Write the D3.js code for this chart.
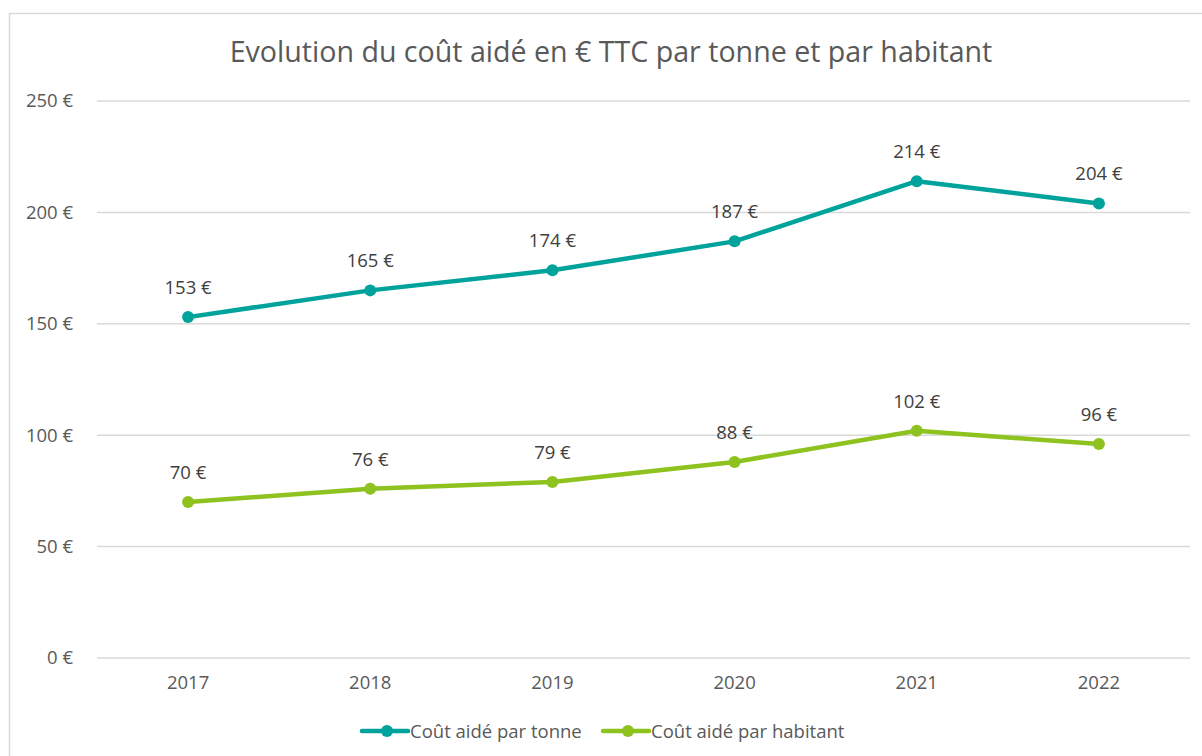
<!DOCTYPE html>
<html>
<head>
<meta charset="utf-8">
<script src="https://cdn.jsdelivr.net/npm/d3@7.9.0/dist/d3.min.js"></script>
<style>
  body { margin: 0; background: #fff; }
  svg { font-family: "Open Sans", "Liberation Sans", sans-serif; }
</style>
</head>
<body>
<div id="chart"></div>
<script>
const years = ["2017", "2018", "2019", "2020", "2021", "2022"];
const parTonne = [153, 165, 174, 187, 214, 204];
const parHabitant = [70, 76, 79, 88, 102, 96];
const yTicks = [0, 50, 100, 150, 200, 250];
const seriesNames = ["Coût aidé par tonne", "Coût aidé par habitant"];
const seriesColors = ["#00A39C", "#8DC21F"];

const width = 1202, height = 756;
const margin = { top: 101, right: 12, bottom: 98, left: 97 };
const fs = "18.5px";

const svg = d3.select("#chart").append("svg")
  .attr("width", width)
  .attr("height", height);

// chart frame
svg.append("rect")
  .attr("x", 9.5).attr("y", 13.5)
  .attr("width", 1210).attr("height", 760)
  .attr("fill", "none").attr("stroke", "#d9d9d9").attr("stroke-width", 1.5);

const x = d3.scaleBand().domain(years).range([margin.left, width - margin.right]);
const y = d3.scaleLinear().domain([0, 250]).range([height - margin.bottom, margin.top]);

// title
const title = svg.append("text")
  .attr("x", 611).attr("y", 62)
  .attr("text-anchor", "middle")
  .attr("fill", "#595959")
  .style("font-size", "28px")
  .text("Evolution du coût aidé en € TTC par tonne et par habitant");
const tw = title.node().getComputedTextLength();
title.style("font-size", (28 * 763 / tw) + "px");

// gridlines
svg.append("g").selectAll("line")
  .data(yTicks)
  .join("line")
  .attr("x1", margin.left).attr("x2", width - margin.right)
  .attr("y1", d => y(d)).attr("y2", d => y(d))
  .attr("stroke", "#d9d9d9").attr("stroke-width", 1.5);

// y axis labels
const yAxis = svg.append("g")
  .attr("transform", `translate(${margin.left - 21},0)`)
  .call(d3.axisLeft(y).tickValues(yTicks).tickSize(0).tickFormat(d => d + " €"));
yAxis.select(".domain").remove();
yAxis.selectAll("text")
  .attr("fill", "#595959")
  .style("font-size", fs)
  .style("font-family", "'Open Sans', sans-serif");

// x axis labels
const xAxis = svg.append("g")
  .attr("transform", `translate(0,${height - margin.bottom + 15})`)
  .call(d3.axisBottom(x).tickSize(0));
xAxis.select(".domain").remove();
xAxis.selectAll("text")
  .attr("fill", "#595959")
  .style("font-size", fs)
  .style("font-family", "'Open Sans', sans-serif");

const allSeries = [parTonne, parHabitant];
const line = d3.line()
  .x((d, i) => x(years[i]) + x.bandwidth() / 2)
  .y(d => y(d));

allSeries.forEach((vals, s) => {
  const g = svg.append("g");
  g.append("path")
    .datum(vals)
    .attr("d", line)
    .attr("fill", "none")
    .attr("stroke", seriesColors[s])
    .attr("stroke-width", 4.5)
    .attr("stroke-linejoin", "round");
  g.selectAll("circle")
    .data(vals)
    .join("circle")
    .attr("cx", (d, i) => x(years[i]) + x.bandwidth() / 2)
    .attr("cy", d => y(d))
    .attr("r", 6)
    .attr("fill", seriesColors[s]);
  g.selectAll("text")
    .data(vals)
    .join("text")
    .attr("x", (d, i) => x(years[i]) + x.bandwidth() / 2)
    .attr("y", d => y(d) - 23)
    .attr("text-anchor", "middle")
    .attr("fill", "#404040")
    .style("font-size", fs)
    .text(d => d + " €");
});

// legend
const legendX = [362, 603];
seriesNames.forEach((name, s) => {
  const lg = svg.append("g").attr("transform", `translate(${legendX[s]},731)`);
  lg.append("line")
    .attr("x1", 0).attr("x2", 46)
    .attr("stroke", seriesColors[s]).attr("stroke-width", 4.5).attr("stroke-linecap", "round");
  lg.append("circle").attr("cx", 25).attr("r", 6).attr("fill", seriesColors[s]);
  lg.append("text")
    .attr("x", 48).attr("y", 6.5)
    .attr("fill", "#595959")
    .style("font-size", fs)
    .text(name);
});
</script>
</body>
</html>
